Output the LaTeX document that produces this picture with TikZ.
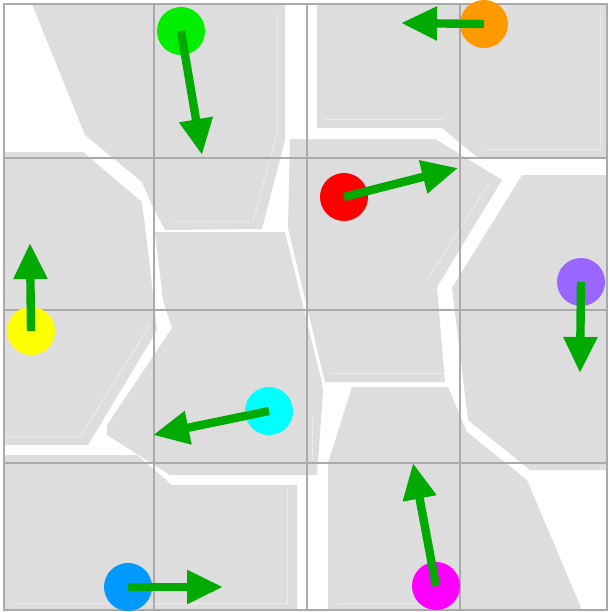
\documentclass[tikz,border=0pt]{standalone}
\usetikzlibrary{arrows.meta}
\definecolor{cellgray}{HTML}{DDDDDD}
\definecolor{seamwhite}{HTML}{EBEBEB}
\definecolor{gridgray}{HTML}{AAAAAA}
\definecolor{vecgreen}{HTML}{00AA00}
\definecolor{dotgreen}{HTML}{00EE00}
\definecolor{dotorange}{HTML}{FF9900}
\definecolor{dotred}{HTML}{FF0000}
\definecolor{dotpurple}{HTML}{9966FF}
\definecolor{dotyellow}{HTML}{FFFF00}
\definecolor{dotcyan}{HTML}{00FFFF}
\definecolor{dotblue}{HTML}{0099FF}
\definecolor{dotmagenta}{HTML}{FF00FF}
\begin{document}
\begin{tikzpicture}[x=0.5pt,y=-0.5pt,
  cell/.style={fill=cellgray},
  seam/.style={draw=seamwhite, line width=0.5pt},
  gridline/.style={draw=gridgray, line width=1.3pt},
  dot/.style={circle, inner sep=0pt, minimum size=24pt},
  vec/.style={draw=vecgreen, line width=4.2pt, -{Triangle[length=18pt, width=16pt]}}]
\useasboundingbox (0,0) rectangle (610,612);
\fill[cell] (32,4) -- (285,4) -- (285,140) -- (262,229) -- (165,230) -- (152,205) -- (142,182) -- (85,135) -- cycle;
\fill[cell] (317,4) -- (607,4) -- (607,157) -- (477,157) -- (442,128) -- (317,128) -- cycle;
\fill[cell] (290,139) -- (435,139) -- (502,180) -- (437,287) -- (445,382) -- (325,382) -- (288,228) -- cycle;
\fill[cell] (4,152) -- (83,152) -- (142,202) -- (148,250) -- (157,330) -- (88,445) -- (4,445) -- cycle;
\fill[cell] (155,232) -- (285,232) -- (322,383) -- (323,392) -- (317,475) -- (170,475) -- (107,435) -- (107,425) -- (172,328) -- (163,300) -- cycle;
\fill[cell] (522,175) -- (607,175) -- (607,470) -- (530,470) -- (468,420) -- (452,288) -- cycle;
\fill[cell] (4,455) -- (137,455) -- (172,485) -- (297,485) -- (297,610) -- (4,610) -- cycle;
\fill[cell] (352,387) -- (448,387) -- (467,432) -- (527,480) -- (582,610) -- (328,610) -- (328,463) -- cycle;
\draw[seam] (277,13) -- (277,133) -- (253,222) -- (173,222);
\draw[seam] (325,119) -- (443,119);
\draw[seam] (485,149) -- (600,149) -- (600,10);
\draw[seam] (488,185) -- (427,280);
\draw[seam] (332,373) -- (445,373);
\draw[seam] (5,437) -- (80,437) -- (150,325);
\draw[seam] (312,417) -- (312,460);
\draw[seam] (13,603) -- (287,603) -- (287,487);
\draw[seam] (337,603) -- (420,603);
\draw[gridline] (4,4) rectangle (607,610);
\draw[gridline] (154,4) -- (154,610);
\draw[gridline] (307,4) -- (307,610);
\draw[gridline] (460,4) -- (460,610);
\draw[gridline] (4,158) -- (607,158);
\draw[gridline] (4,310) -- (607,310);
\draw[gridline] (4,463) -- (607,463);
\node[dot, fill=dotgreen] (dgreen) at (181,31) {};
\node[dot, fill=dotorange] (dorange) at (484,24) {};
\node[dot, fill=dotred] (dred) at (344,197) {};
\node[dot, fill=dotpurple] (dpurple) at (581,282) {};
\node[dot, fill=dotyellow] (dyellow) at (31,331) {};
\node[dot, fill=dotcyan] (dcyan) at (269,411) {};
\node[dot, fill=dotblue] (dblue) at (128,587) {};
\node[dot, fill=dotmagenta] (dmagenta) at (436,586) {};
\coordinate (tgreen) at (202,155);
\coordinate (torange) at (401,23);
\coordinate (tred) at (458,168);
\coordinate (tpurple) at (580,373);
\coordinate (tyellow) at (30,243);
\coordinate (tcyan) at (153,435);
\coordinate (tblue) at (223,587);
\coordinate (tmagenta) at (413,463);
\draw[vec] (dgreen.center) -- (tgreen);
\draw[vec] (dorange.center) -- (torange);
\draw[vec] (dred.center) -- (tred);
\draw[vec] (dpurple.center) -- (tpurple);
\draw[vec] (dyellow.center) -- (tyellow);
\draw[vec] (dcyan.center) -- (tcyan);
\draw[vec] (dblue.center) -- (tblue);
\draw[vec] (dmagenta.center) -- (tmagenta);
\end{tikzpicture}
\end{document}
